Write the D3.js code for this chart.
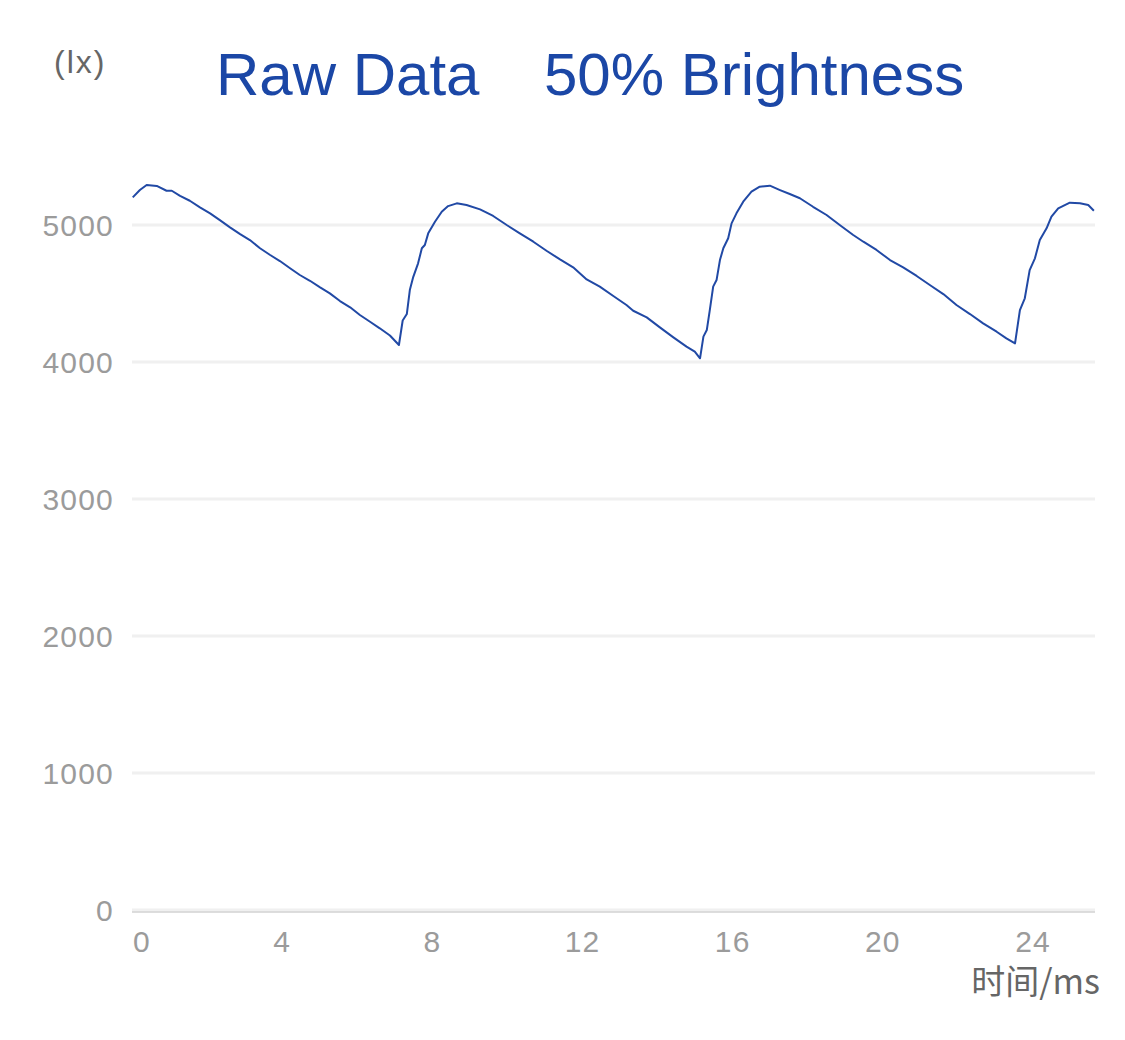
<!DOCTYPE html>
<html>
<head>
<meta charset="utf-8">
<script src="https://cdn.jsdelivr.net/npm/d3@7"></script>
<style>
  html, body { margin: 0; padding: 0; background: #fff; }
  svg { display: block; }
</style>
</head>
<body>
<svg id="chart" width="1125" height="1040"></svg>
<script>
// ---- data (time in ms, illuminance in lx) ----
const timeMs = [
  0.02, 0.21, 0.39, 0.66, 0.92, 1.06, 1.28, 1.54, 1.81, 2.08, 2.34, 2.61, 2.88, 3.14, 3.41, 3.68, 3.94,
  4.21, 4.47, 4.74, 5.01, 5.27, 5.54, 5.81, 6.07, 6.34, 6.60, 6.87, 7.11,
  7.21, 7.32, 7.40, 7.49, 7.62, 7.72, 7.80, 7.89, 8.07, 8.25, 8.42, 8.65, 8.91, 9.27, 9.62, 9.98,
  10.33, 10.69, 11.04, 11.40, 11.75, 12.11, 12.46, 12.82, 13.17, 13.35, 13.71, 14.06, 14.42, 14.77, 14.99, 15.13,
  15.22, 15.31, 15.39, 15.48, 15.57, 15.66, 15.75, 15.88, 15.97, 16.10, 16.28, 16.50, 16.72, 16.99,
  17.26, 17.52, 17.79, 18.14, 18.50, 18.85, 19.21, 19.48, 19.83, 20.19, 20.54, 20.90, 21.25, 21.61,
  21.96, 22.32, 22.67, 23.03, 23.29, 23.52,
  23.65, 23.78, 23.91, 24.05, 24.18, 24.36, 24.49, 24.67, 24.98, 25.25, 25.47, 25.62
];
const luxValues = [
  5202, 5255, 5292, 5285, 5250, 5250, 5212, 5177, 5129, 5085, 5036, 4983, 4934, 4890, 4830, 4781, 4737,
  4684, 4635, 4593, 4545, 4501, 4445, 4399, 4343, 4294, 4246, 4193, 4124,
  4303, 4350, 4525, 4620, 4720, 4830, 4854, 4939, 5024, 5097, 5138, 5158, 5146, 5114, 5066, 5000,
  4939, 4878, 4812, 4749, 4691, 4603, 4550, 4482, 4416, 4374, 4326, 4253, 4180, 4112, 4075, 4027,
  4185, 4233, 4379, 4550, 4598, 4744, 4830, 4903, 5012, 5085, 5170, 5243, 5280, 5287,
  5255, 5226, 5195, 5133, 5073, 5000, 4927, 4878, 4818, 4744, 4691, 4628, 4562, 4496,
  4416, 4350, 4282, 4221, 4173, 4136,
  4379, 4465, 4671, 4757, 4890, 4976, 5061, 5122, 5163, 5158, 5146, 5104
];
const xTicks = [0, 4, 8, 12, 16, 20, 24];
const yTicks = [0, 1000, 2000, 3000, 4000, 5000];
const titleLeft = "Raw Data";
const titleRight = "50% Brightness";
const yUnit = "(lx)";
const xUnit = "时间/ms";

// ---- drawing ----
const svg = d3.select("#chart");
const font = "'Liberation Sans', Arial, Helvetica, sans-serif";

const x = d3.scaleLinear().domain([0, 25.65]).range([132, 1095]);
const y = d3.scaleLinear().domain([0, 5000]).range([910, 225]);

// gridlines
svg.append("g")
  .selectAll("line")
  .data(yTicks)
  .join("line")
  .attr("x1", x(0)).attr("x2", x(25.65))
  .attr("y1", d => y(d)).attr("y2", d => y(d))
  .attr("stroke", "#f0f0f0")
  .attr("stroke-width", 3);

// x axis line
svg.append("line")
  .attr("x1", x(0)).attr("x2", x(25.65))
  .attr("y1", y(0) + 2).attr("y2", y(0) + 2)
  .attr("stroke", "#d2d2d2")
  .attr("stroke-width", 1.5);

// y tick labels
svg.append("g")
  .selectAll("text")
  .data(yTicks)
  .join("text")
  .attr("x", 114)
  .attr("y", d => y(d) + 10.5)
  .attr("text-anchor", "end")
  .attr("font-family", font)
  .attr("font-size", 30)
  .attr("letter-spacing", 1.2)
  .attr("fill", "#9b9b9b")
  .text(d => d);

// x tick labels
svg.append("g")
  .selectAll("text")
  .data(xTicks)
  .join("text")
  .attr("x", d => d === 0 ? x(d) + 1 : x(d))
  .attr("y", 952)
  .attr("text-anchor", d => d === 0 ? "start" : "middle")
  .attr("font-family", font)
  .attr("font-size", 30)
  .attr("letter-spacing", 1.2)
  .attr("fill", "#9b9b9b")
  .text(d => d);

// line
const pts = timeMs.map((t, i) => [t, luxValues[i]]);
svg.append("path")
  .datum(pts)
  .attr("fill", "none")
  .attr("stroke", "#2149a5")
  .attr("stroke-width", 2)
  .attr("stroke-linejoin", "round")
  .attr("d", d3.line().x(d => x(d[0])).y(d => y(d[1])));

// title
svg.append("text")
  .attr("x", 216).attr("y", 95)
  .attr("font-family", font).attr("font-size", 60)
  .attr("fill", "#1b47a6")
  .text(titleLeft);
svg.append("text")
  .attr("x", 544).attr("y", 95)
  .attr("font-family", font).attr("font-size", 60)
  .attr("fill", "#1b47a6")
  .text(titleRight);

// unit labels
svg.append("text")
  .attr("x", 54).attr("y", 73)
  .attr("font-family", font).attr("font-size", 32)
  .attr("letter-spacing", 2)
  .attr("fill", "#666")
  .text(yUnit);
svg.append("text")
  .attr("x", 1100).attr("y", 994)
  .attr("text-anchor", "end")
  .attr("font-family", "'Noto Sans CJK SC', 'Noto Sans', sans-serif")
  .attr("font-size", 34)
  .attr("fill", "#666")
  .text(xUnit);
</script>
</body>
</html>
